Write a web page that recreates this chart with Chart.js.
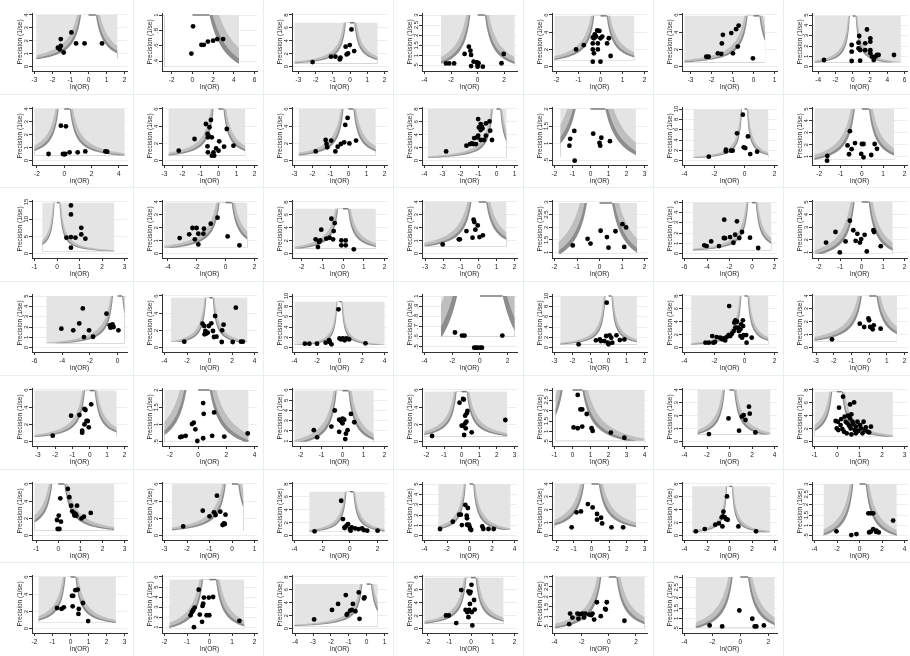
<!DOCTYPE html>
<html>
<head>
<meta charset="utf-8">
<script src="https://cdn.jsdelivr.net/npm/chart.js@4.4.1/dist/chart.umd.min.js"></script>
<style>
body { margin: 0; background: #fff; }
#grid { position: relative; width: 910px; height: 656px; overflow: hidden; background: #fff; }
.cell { position: absolute; width: 130px; height: 94px; }
.vl { position: absolute; top: 0; width: 1px; height: 656px; background: #e6eef1; }
.hl { position: absolute; left: 0; height: 1px; width: 910px; background: #e6eef1; }
</style>
</head>
<body>
<div id="grid"></div>
<script>
// study points: [ln(OR), precision]
const s11 = [[-1.54,2.14],[-0.95,2.65],[-1.54,1.6],[-1.7,1.47],[-1.6,1.35],[-1.38,1.1],[-0.69,1.8],[-0.22,1.8],[0.75,1.8]];
const s12 = [[0.06,0.853],[-0.1,0.5],[0.87,0.614],[1.1,0.614],[1.5,0.655],[2.0,0.667],[2.4,0.688],[2.97,0.688]];
const s13 = [[-2.18,0.72],[-1.11,1.55],[-0.85,1.55],[-0.6,1.13],[-0.56,1.39],[-0.26,3.1],[-0.12,2.06],[-0.2,1.9],[-0.02,3.35],[0.08,5.77],[0.24,2.42]];
const s14 = [[-2.38,0.61],[-2.14,0.61],[-1.77,0.61],[-0.98,1.08],[-0.66,1.44],[-0.54,1.24],[-0.49,1.03],[-0.3,0.7],[-0.05,0.66],[-0.49,0.48],[0,0.53],[0,0.45],[0.39,0.45],[0.07,0.62],[1.8,0.62],[1.97,1.08]];
const s15 = [[-1.11,2.0],[-0.76,2.5],[-0.35,3.4],[-0.26,3.76],[-0.15,4.2],[-0.05,4.15],[-0.2,3.5],[0,3.3],[-0.3,3.3],[-0.35,2.7],[-0.12,2.7],[-0.35,2.0],[-0.12,2.0],[-0.3,1.55],[0.3,2.7],[0.38,3.3],[0.46,1.24],[-0.35,0.58],[0,0.58],[0.08,3.5]];
const s16 = [[-2.25,1.16],[-2.14,1.16],[-1.7,1.55],[-1.54,1.5],[-1.51,2.7],[-1.46,3.7],[-1.06,3.9],[-0.83,4.35],[-0.71,4.77],[-0.75,2.33],[-0.98,1.55],[-0.03,0.97]];
const s17 = [[-3.33,0.65],[-0.12,2.1],[-0.12,1.45],[-0.12,0.55],[0.67,2.32],[0.75,2.97],[0.67,1.77],[0.86,1.6],[1.45,2.26],[1.65,3.6],[1.45,1.6],[2.04,2.74],[2.04,2.42],[2.04,1.6],[2.04,1.3],[2.24,0.97],[2.63,0.97],[2.82,1.13],[3.0,1.13],[2.43,0.65],[4.78,1.13],[0.86,0.58]];
const s21 = [[-1.15,0.52],[-0.25,2.71],[0.12,2.66],[-0.1,0.52],[0.07,0.52],[0,0.5],[0.39,0.65],[0.98,0.65],[1.54,0.72],[3.01,0.72],[3.14,0.7]];
const s22 = [[-2.21,1.16],[-1.33,2.52],[-0.7,4.26],[-0.42,4.73],[-0.5,3.88],[-0.61,3.1],[-0.55,2.9],[-0.59,2.71],[-0.37,2.71],[-0.61,1.67],[-0.59,0.97],[-0.28,0.97],[-0.37,0.58],[-0.24,0.58],[-0.13,1.43],[0,1.16],[0.04,2.25],[0.31,1.63],[0.46,3.68],[0.83,1.74]];
const s23 = [[-1.82,1.08],[-1.27,2.4],[-1.22,1.94],[-1.18,1.55],[-0.96,2.33],[-0.73,1.08],[-0.6,1.63],[-0.42,1.94],[-0.24,2.13],[-0.18,4.15],[-0.05,4.96],[0.05,2.0],[0.42,2.33]];
const s24 = [[-2.8,1.44],[-1.67,2.32],[-1.47,2.58],[-1.37,2.68],[-1.27,2.58],[-1.24,3.5],[-1.08,3.6],[-1.02,3.87],[-0.98,5.15],[-1.02,6.44],[-0.88,5.67],[-0.82,5.26],[-0.78,5.0],[-0.88,4.74],[-0.59,5.77],[-0.39,6.08],[-0.88,3.2],[-0.69,3.2],[-0.59,3.87],[-0.35,4.64],[-0.25,3.2],[-1.14,2.58]];
const s25 = [[-0.9,1.36],[-1.13,1.13],[-1.17,0.93],[-0.88,0.49],[0.15,1.28],[0.6,1.16],[0.5,1.01],[0.54,0.93],[1.08,1.06]];
const s26 = [[-2.38,0.77],[-1.24,2.13],[-1.24,1.8],[-0.9,1.94],[-0.79,1.94],[-0.5,5.3],[-0.11,8.9],[-0.05,2.58],[0.05,2.45],[0.23,4.7],[0.38,1.29],[0.84,1.74]];
const s27 = [[-1.63,0.66],[-1.62,1.06],[-0.56,3.14],[-0.67,1.94],[-0.6,1.2],[-0.48,1.63],[-0.32,2.14],[0,2.06],[0.08,2.06],[-0.03,1.23],[0.08,0.94],[0.44,1.14],[0.6,2.06],[0.71,1.66]];
const s31 = [[0.62,14.0],[0.62,11.4],[0.42,4.64],[0.62,4.83],[0.82,4.64],[1.08,7.5],[1.08,5.6],[1.26,4.35],[0.62,1.74]];
const s32 = [[-3.18,1.21],[-2.52,1.5],[-2.29,1.99],[-2.01,1.99],[-2.13,1.11],[-1.89,0.72],[-1.89,1.55],[-1.54,1.55],[-1.5,1.94],[-1.03,2.32],[-0.56,2.79],[0.14,1.34],[0.96,0.65]];
const s33 = [[-1.32,2.22],[-1.21,1.03],[-1.1,2.06],[-1.05,3.71],[-1.16,1.8],[-0.81,2.32],[-0.65,2.47],[-0.48,2.22],[-0.56,5.41],[-0.4,4.74],[-0.45,3.5],[-0.08,2.06],[0.13,2.06],[-0.08,1.29],[0.13,1.29],[0.52,0.67]];
const s34 = [[-2.02,0.72],[-1.12,1.11],[-1.06,1.11],[-0.69,1.75],[-0.35,1.24],[-0.29,2.63],[-0.25,2.45],[-0.19,1.86],[-0.06,2.19],[0.04,1.29],[0.23,1.42]];
const s35 = [[-1.19,1.28],[-0.53,1.54],[-0.4,1.35],[0.05,1.86],[0.33,1.61],[0.4,1.19],[0.71,1.84],[1.02,2.12],[1.18,1.99],[1.1,1.22]];
const s36 = [[-4.24,0.81],[-4.03,0.74],[-3.63,1.19],[-2.93,0.74],[-2.5,1.52],[-2.47,3.29],[-1.95,1.61],[-1.34,3.13],[-1.5,1.84],[-1.65,1.06],[-1.13,1.52],[-0.89,2.1],[-0.18,1.55],[0.55,0.55],[-2.4,1.5]];
const s37 = [[-1.66,1.78],[-1.22,2.62],[-1.02,1.0],[-0.75,1.87],[-0.55,3.52],[-0.39,2.76],[-0.28,1.92],[-0.2,2.48],[-0.08,1.78],[-0.02,2.06],[0.14,2.4],[0.55,2.76],[0.58,2.62],[0.89,1.5],[0.24,1.08]];
const s41 = [[-4.06,1.84],[-3.2,1.68],[-2.77,2.35],[-2.51,3.8],[-2.43,1.03],[-2.06,1.68],[-1.77,1.06],[-0.8,3.29],[-0.57,2.16],[-0.51,1.94],[-0.37,2.26],[-0.29,2.0],[0.06,1.68]];
const s42 = [[-2.24,0.7],[-0.62,2.79],[-0.47,2.52],[-0.37,1.94],[-0.31,1.63],[-0.44,1.55],[-0.16,1.74],[-0.06,2.52],[0.16,2.83],[0.31,1.94],[0.5,3.68],[0.4,1.24],[0.62,1.28],[1.09,0.66],[1.12,2.02],[1.25,2.67],[2.06,0.66],[2.34,4.65],[2.8,0.7],[2.96,0.7]];
const s43 = [[-3.08,0.77],[-2.68,0.77],[-2.0,0.77],[-1.23,0.97],[-0.92,1.48],[-0.86,1.1],[-0.71,0.65],[-0.09,7.42],[0,1.8],[0.15,1.61],[0.31,1.8],[0.46,1.42],[0.62,1.8],[0.86,1.61],[2.31,0.84]];
const s44 = [[-1.8,0.64],[-1.29,0.61],[-1.11,0.61],[-0.41,0.49],[-0.28,0.49],[-0.15,0.49],[0.03,0.49],[0.15,0.49],[1.62,0.61]];
const s45 = [[-1.66,0.65],[-0.7,1.42],[-0.48,1.61],[-0.42,1.29],[-0.23,1.29],[-0.13,2.26],[-0.04,0.97],[-0.1,8.7],[0.06,2.39],[0.15,1.94],[0.21,0.97],[0,0.65],[0.44,2.39],[0.63,1.48],[0.88,1.61]];
const s46 = [[-2.6,0.77],[-2.38,0.77],[-2.08,0.77],[-1.97,0.88],[-2.15,1.8],[-1.86,1.65],[-1.63,1.55],[-1.4,1.44],[-1.29,1.13],[-1.18,1.65],[-1.06,1.96],[-1.02,6.44],[-0.95,1.8],[-0.84,2.16],[-0.72,2.58],[-0.61,3.09],[-0.68,3.87],[-0.61,4.23],[-0.5,4.02],[-0.43,3.09],[-0.38,2.58],[-0.27,2.84],[-0.23,3.6],[-0.11,4.23],[-0.09,3.35],[-0.27,1.8],[-0.16,1.55],[-0.05,1.96],[0.11,1.96],[0.14,0.77],[0.48,1.55],[-1.5,1.3]];
const s47 = [[-2.1,0.65],[-0.53,1.86],[-0.28,1.6],[-0.04,2.27],[0,2.12],[0.06,1.6],[0.2,1.42],[0.26,1.73],[0.65,1.47]];
const s51 = [[-2.14,0.7],[-1.08,3.02],[-0.6,3.1],[-0.31,2.0],[-0.44,1.28],[-0.44,1.05],[-0.31,3.8],[-0.25,3.68],[-0.19,2.4],[-0.12,2.4],[-0.06,1.67],[0.08,4.34]];
const s52 = [[-1.26,0.63],[-1.14,0.65],[-0.88,0.67],[-0.43,1.01],[-0.31,1.05],[-0.19,0.86],[-0.05,0.52],[0.36,1.62],[0.4,1.31],[0.36,0.6],[1.0,0.67],[1.14,1.35],[1.86,0.65],[3.52,0.74]];
const s53 = [[-1.37,2.08],[-1.21,1.38],[-0.53,2.43],[-0.37,4.0],[-0.16,3.1],[-0.08,2.96],[0,3.2],[0.08,3.1],[0,2.75],[-0.16,1.91],[0.16,1.73],[0.24,2.08],[0.4,3.66],[0.13,1.21],[0.56,2.85]];
const s54 = [[-1.68,0.66],[-0.12,4.53],[0.08,4.96],[0.12,4.9],[0,1.86],[0.08,1.86],[0.14,0.78],[0.2,2.13],[0.23,1.55],[0.27,2.33],[0.29,3.29],[0.33,3.57],[0.57,1.09],[2.48,2.52],[0.2,3.02]];
const s55 = [[0.29,2.76],[0.44,2.06],[0.54,2.06],[0.79,1.84],[0.06,1.19],[0.29,1.15],[0.54,1.23],[1.06,1.15],[1.12,1.02],[2.13,0.94],[2.88,0.69]];
const s56 = [[-1.83,0.59],[-0.09,1.8],[0.85,0.85],[1.1,1.94],[1.26,2.06],[1.42,1.68],[1.73,2.71],[1.8,2.17],[2.3,0.72]];
const s57 = [[0.27,6.96],[0.09,5.26],[0.58,5.77],[0.76,6.08],[0.49,4.02],[0.34,3.87],[0.64,4.23],[-0.06,3.2],[0.04,3.09],[0.16,2.58],[0.24,1.96],[0.39,3.09],[0.46,2.84],[0.54,2.47],[0.61,2.06],[0.69,3.09],[0.73,2.68],[0.79,1.8],[0.84,2.32],[0.91,3.09],[0.94,1.65],[1.03,2.58],[1.06,2.06],[1.13,1.29],[1.18,3.09],[1.24,1.8],[1.28,2.22],[1.36,1.55],[1.43,1.44],[1.51,2.32],[0.31,1.55],[0.43,1.29],[0.64,1.13],[0.84,1.29],[-0.01,2.06],[0.06,1.8],[0.19,3.5],[0.58,3.6]];
const s61 = [[-0.03,0.78],[0.05,0.78],[-0.06,1.82],[0.02,2.33],[0.12,1.63],[0.09,4.34],[0.43,5.43],[0.5,4.46],[0.58,3.49],[0.63,2.83],[0.7,2.64],[0.73,2.33],[0.78,2.52],[0.85,3.49],[0.82,2.33],[1.05,2.0],[1.16,2.21],[1.47,2.64]];
const s62 = [[-2.17,1.08],[-1.3,2.9],[-1.0,2.25],[-0.8,2.71],[-0.73,2.4],[-0.67,4.65],[-0.52,2.79],[-0.42,1.24],[-0.36,1.43],[-0.29,2.44],[-0.32,1.36]];
const s63 = [[-2.55,0.67],[-0.63,5.41],[-0.5,2.58],[-0.38,1.29],[-0.25,1.55],[-0.13,1.8],[0,1.03],[0.05,0.77],[0.13,1.29],[0.38,1.13],[0.63,1.03],[0.88,1.13],[1.0,0.88],[1.25,0.77],[2.0,0.77],[-0.38,1.19]];
const s64 = [[-2.62,0.65],[-1.48,1.35],[-0.92,2.03],[-0.77,2.03],[-0.68,1.03],[-0.37,2.97],[-0.15,2.68],[-0.25,1.94],[-0.22,1.68],[-0.22,1.06],[-0.06,1.06],[0,0.9],[0.06,0.65],[0.15,0.55],[1.14,0.9],[1.23,0.65],[1.69,0.65],[2.15,0.65]];
const s65 = [[-1.13,0.65],[-0.85,1.81],[-0.6,1.88],[-0.21,2.45],[0.06,2.19],[0.31,1.68],[0.31,1.24],[0.54,1.39],[0.6,0.95],[1.13,0.65],[1.79,0.65]];
const s66 = [[-2.99,0.67],[-2.2,1.03],[-1.26,1.7],[-0.94,1.9],[-0.69,2.84],[-0.63,1.44],[-0.57,3.0],[-0.54,3.71],[-0.41,2.84],[-0.31,2.58],[-0.22,6.08],[-0.16,2.47],[0.79,1.44],[2.36,0.67]];
const s67 = [[-2.05,0.71],[-0.73,0.53],[-0.27,0.58],[0.79,1.58],[1.0,1.58],[1.22,1.58],[0.85,0.66],[1.0,0.69],[1.22,0.82],[1.47,0.69],[1.71,0.66],[2.99,1.23],[1.5,0.74]];
const s71 = [[-0.75,2.4],[-0.5,2.29],[-0.37,2.48],[0.08,3.82],[0.15,3.82],[0.12,2.6],[0.27,4.47],[0.4,4.54],[0.46,2.29],[0.44,1.72],[0.69,2.98],[0.98,0.88]];
const s72 = [[-0.84,2.19],[-0.78,2.52],[-0.73,2.69],[-0.66,2.95],[-0.69,1.0],[-0.48,4.74],[-0.43,2.26],[-0.33,1.53],[-0.31,3.12],[-0.28,3.35],[-0.25,3.95],[-0.13,2.19],[-0.01,2.19],[-0.03,3.95],[0.16,4.01],[1.33,1.63]];
const s73 = [[-2.94,1.43],[-1.94,2.91],[-1.6,3.83],[-1.17,5.2],[-1.12,2.14],[-1.08,2.3],[-0.92,2.81],[-0.77,3.83],[-0.83,2.91],[-0.63,2.7],[-0.44,5.61],[-0.4,1.53],[-0.15,4.69],[-0.12,4.85]];
const s74 = [[-1.15,2.04],[-1.02,2.04],[-0.68,0.87],[-0.45,5.97],[-0.25,2.91],[-0.17,2.55],[-0.12,5.77],[-0.06,5.46],[-0.02,5.71],[0.02,6.79],[-0.05,3.83],[-0.12,1.79],[-0.09,2.91],[0.03,2.55],[0.14,4.44],[0.17,2.96],[0.06,0.51]];
const s75 = [[-2.92,0.63],[-2.85,1.16],[-2.68,0.96],[-2.31,1.16],[-2.24,0.91],[-2.11,1.13],[-1.94,1.16],[-1.82,0.96],[-1.74,1.16],[-1.45,1.11],[-1.2,1.16],[-1.08,0.86],[-0.88,1.73],[-0.59,1.03],[-0.27,1.4],[-0.22,1.36],[-0.15,1.73],[1.15,0.8],[-1.3,1.08]];
const s76 = [[-2.2,0.66],[-1.3,0.61],[-0.07,1.38],[0.86,0.98],[1.03,0.61],[1.15,0.61],[1.69,0.66]];

const studies = [s11,s12,s13,s14,s15,s16,s17, s21,s22,s23,s24,s25,s26,s27, s31,s32,s33,s34,s35,s36,s37,
  s41,s42,s43,s44,s45,s46,s47, s51,s52,s53,s54,s55,s56,s57, s61,s62,s63,s64,s65,s66,s67, s71,s72,s73,s74,s75,s76];

// x tick labels per panel
const xTicks = [
  [-3,-2,-1,0,1,2],[-2,0,2,4,6],[-3,-2,-1,0,1,2],[-4,-2,0,2],[-2,-1,0,1,2],[-3,-2,-1,0,1],[-4,-2,0,2,4,6],
  [-2,0,2,4],[-3,-2,-1,0,1,2],[-3,-2,-1,0,1,2],[-4,-3,-2,-1,0,1],[-2,-1,0,1,2,3],[-4,-2,0,2],[-2,-1,0,1,2],
  [-1,0,1,2,3],[-4,-2,0,2],[-2,-1,0,1,2],[-3,-2,-1,0,1,2],[-2,-1,0,1,2],[-6,-4,-2,0,2],[-2,-1,0,1,2],
  [-6,-4,-2,0],[-4,-2,0,2,4],[-4,-2,0,2,4],[-4,-2,0,2],[-3,-2,-1,0,1,2],[-4,-2,0,2],[-3,-2,-1,0,1,2],
  [-3,-2,-1,0,1,2],[-2,0,2,4],[-2,-1,0,1,2],[-2,-1,0,1,2,3],[-1,0,1,2,3,4],[-4,-2,0,2,4],[-1,0,1,2,3],
  [-1,0,1,2,3],[-3,-2,-1,0,1],[-4,-2,0,2],[-4,-2,0,2,4],[-2,-1,0,1,2,3],[-4,-2,0,2,4],[-4,-2,0,2,4],
  [-2,-1,0,1,2,3],[-2,-1,0,1,2],[-4,-3,-2,-1,0,1],[-2,-1,0,1,2],[-4,-2,0,2],[-4,-2,0,2]
];
// y tick labels per panel
const yTicks = [
  [0,1,2,3,4],[0.4,0.6,0.8,1],[0,2,4,6,8],[0.5,1,1.5,2,2.5,3],[0,2,4,6],[0,2,4,6],[0,1,2,3,4,5],
  [0,1,2,3,4],[0,2,4,6],[0,2,4,6],[0,2,4,6,8],[0.5,1,1.5,2],[0,2,4,6,8,10],[1,2,3,4,5],
  [0,5,10,15],[0,1,2,3,4],[0,2,4,6,8],[0,1,2,3,4],[1,1.5,2,2.5,3],[0,1,2,3,4,5],[1,2,3,4,5],
  [0,1,2,3,4,5],[0,2,4,6],[0,2,4,6,8,10],[0.5,0.6,0.7,0.8,0.9,1],[0,2,4,6,8,10],[0,2,4,6,8],[0,1,2,3,4],
  [0,2,4,6],[0.5,1,1.5,2],[1,2,3,4,5,6],[0,2,4,6],[0.5,1,1.5,2,2.5,3],[0,1,2,3,4],[0,2,4,6,8],
  [0,2,4,6],[0,2,4,6],[0,2,4,6,8],[0,1,2,3,4,5],[0,1,2,3,4],[0,2,4,6,8],[0.5,1,1.5,2,2.5,3],
  [0,2,4,6],[1,2,3,4,5,6],[0,2,4,6,8],[0,2,4,6,8],[0.5,1,1.5,2,2.5,3],[0.5,1,1.5,2,2.5,3]
];
// contour range per panel: [ln(OR) min, ln(OR) max, precision min, precision max]
const contourRange = [
  [-2.9,1.6,0.6,4.0],[-2.7,4.5,0.33,1.0],[-3.23,1.59,0.5,6.8],[-2.75,2.78,0.58,3.0],[-2.09,1.53,0.7,5.9],[-3.29,0.55,0.5,5.9],[-4.43,5.57,0.4,4.9],
  [-2.18,4.41,0.4,4.0],[-2.77,1.48,0.6,6.0],[-2.76,1.51,0.6,6.0],[-3.82,0.55,0.45,8.0],[-1.67,2.52,0.6,2.0],[-3.39,1.58,0.5,10],[-2.22,1.51,0.75,5.0],
  [-0.65,2.54,0.7,14.8],[-4.23,1.5,0.46,3.95],[-2.34,1.58,0.8,6.96],[-3.04,1.54,0.57,4.0],[-1.81,1.67,0.95,2.96],[-5.25,1.71,0.32,4.94],[-2.2,1.44,0.9,5.0],
  [-5.14,0.5,0.42,5.0],[-3.43,3.36,0.66,5.8],[-4.0,4.0,0.5,8.9],[-2.81,2.5,0.6,1.0],[-2.67,1.58,0.6,10],[-3.55,1.58,0.45,8],[-3.09,1.57,0.5,4.0],
  [-3.19,1.54,0.55,5.93],[-2.38,3.57,0.5,2.0],[-2.29,1.48,0.95,5.93],[-2.11,2.58,0.6,5.81],[-0.94,4.0,0.55,3.0],[-2.83,3.62,0.55,4.0],[-0.99,2.48,0.75,7.73],
  [-1.08,2.53,0.62,6.0],[-2.67,0.5,0.55,6.0],[-2.93,2.5,0.6,6.8],[-2.77,3.63,0.55,5.0],[-2.1,2.52,0.6,4.0],[-3.31,3.62,0.55,7.63],[-3.18,3.3,0.5,3.0],
  [-1.77,2.52,0.7,6.0],[-1.78,1.54,0.85,5.74],[-4.04,0.62,0.36,6.9],[-2.14,1.49,0.8,7.9],[-3.96,2.63,0.4,3.0],[-3.19,2.45,0.55,3.0]
];
const zLevels = [2.576, 1.96, 1.645];
const bandColors = ['#bfbfbf', '#8d8d8d', '#ffffff'];

function fmt(v) {
  return String(v).replace(/^0\./, '.').replace(/^-0\./, '-.');
}

const funnelPlugin = {
  id: 'funnel',
  beforeDatasetsDraw(chart, args, opts) {
    const {ctx, chartArea: a, scales: {x, y}} = chart;
    const [x0, x1, y0, y1] = opts.range;
    const X = v => x.getPixelForValue(v), Y = v => y.getPixelForValue(v);
    ctx.save();
    ctx.beginPath();
    ctx.rect(a.left, a.top, a.right - a.left, a.bottom - a.top);
    ctx.clip();
    ctx.fillStyle = '#e4e4e4';
    ctx.fillRect(X(x0), Y(y1), X(x1) - X(x0), Y(y0) - Y(y1));
    const n = 90;
    const yAt = k => y0 * Math.pow(y1 / y0, k / n);
    zLevels.forEach((z, i) => {
      ctx.fillStyle = bandColors[i];
      ctx.beginPath();
      for (let k = 0; k <= n; k++) {
        const yy = yAt(k);
        const xr = Math.min(x1, z / yy);
        if (k === 0) ctx.moveTo(X(xr), Y(yy)); else ctx.lineTo(X(xr), Y(yy));
      }
      for (let k = n; k >= 0; k--) {
        const yy = yAt(k);
        const xl = opts.noLeft ? x0 : Math.max(x0, -z / yy);
        ctx.lineTo(X(xl), Y(yy));
      }
      ctx.closePath();
      ctx.fill();
    });
    ctx.strokeStyle = '#7a7a7a';
    ctx.lineWidth = 1.5;
    ctx.beginPath();
    ctx.moveTo(X(0), Y(y1));
    ctx.lineTo(X(Math.min(x1, 1.645 / y1)), Y(y1));
    ctx.stroke();
    ctx.restore();
  },
  afterDraw(chart, args, opts) {
    const {ctx, scales: {y}} = chart;
    ctx.save();
    ctx.fillStyle = '#222';
    ctx.font = '6px "Liberation Sans", Arial, sans-serif';
    ctx.textAlign = 'center';
    ctx.textBaseline = 'middle';
    opts.yt.forEach(v => {
      ctx.save();
      ctx.translate(26, y.getPixelForValue(v));
      ctx.rotate(-Math.PI / 2);
      ctx.fillText(fmt(v), 0, 0);
      ctx.restore();
    });
    ctx.restore();
  }
};

const grid = document.getElementById('grid');
const font = {family: '"Liberation Sans", Arial, sans-serif', size: 6.5};

studies.forEach((pts, i) => {
  const r = Math.floor(i / 7), c = i % 7;
  const cell = document.createElement('div');
  cell.className = 'cell';
  cell.style.left = (c * 130) + 'px';
  cell.style.top = Math.round(r * 656 / 7) + 'px';
  const cv = document.createElement('canvas');
  cv.width = 130; cv.height = 94;
  cell.appendChild(cv);
  grid.appendChild(cell);

  const xt = xTicks[i], yt = yTicks[i], rg = contourRange[i];
  const px = pts.map(p => p[0]), py = pts.map(p => p[1]);
  const xlo = Math.min(xt[0], rg[0], ...px), xhi = Math.max(xt[xt.length - 1], rg[1], ...px);
  const ylo = Math.min(yt[0], rg[2], ...py), yhi = Math.max(yt[yt.length - 1], rg[3], ...py);
  const ux = (xhi - xlo) / 90, uy = (yhi - ylo) / 51.7;

  new Chart(cv, {
    type: 'scatter',
    data: {
      datasets: [{
        data: pts.map(p => ({x: p[0], y: p[1]})),
        backgroundColor: '#000',
        borderWidth: 0,
        pointRadius: 2.4
      }]
    },
    options: {
      responsive: false,
      animation: false,
      events: [],
      layout: {autoPadding: false, padding: {top: 13, right: 3, left: 0, bottom: 0}},
      plugins: {
        legend: {display: false},
        tooltip: {enabled: false},
        funnel: {range: rg, noLeft: i === 1, yt: yt}
      },
      scales: {
        x: {
          type: 'linear',
          min: xlo - 2.5 * ux,
          max: xhi + 2.5 * ux,
          afterBuildTicks: s => { s.ticks = xt.map(v => ({value: v})); },
          afterFit: s => { s.height = 23; },
          grid: {drawOnChartArea: false, drawTicks: true, tickLength: 3, tickColor: '#333'},
          border: {display: true, color: '#333', width: 1},
          ticks: {font: font, color: '#222', padding: 2, maxRotation: 0, autoSkip: false, callback: v => fmt(v)},
          title: {display: true, text: 'ln(OR)', font: font, color: '#222', padding: {top: 0, bottom: 3}}
        },
        y: {
          type: 'linear',
          min: ylo - 4.3 * uy,
          max: yhi + 2 * uy,
          afterBuildTicks: s => { s.ticks = yt.map(v => ({value: v})); },
          afterFit: s => { s.width = 32; },
          grid: {color: '#e8eff1', drawTicks: true, tickLength: 3, tickColor: '#333'},
          border: {display: true, color: '#333', width: 1},
          ticks: {display: false},
          title: {display: true, text: 'Precision (1/se)', font: font, color: '#222', padding: {top: 16.5, bottom: 0}}
        }
      }
    },
    plugins: [funnelPlugin]
  });
});

for (let c = 1; c < 7; c++) {
  const d = document.createElement('div');
  d.className = 'vl';
  d.style.left = (c * 130 + 3) + 'px';
  grid.appendChild(d);
}
for (let r = 1; r < 7; r++) {
  const d = document.createElement('div');
  d.className = 'hl';
  d.style.top = Math.round(r * 656 / 7) + 'px';
  grid.appendChild(d);
}
</script>
</body>
</html>
